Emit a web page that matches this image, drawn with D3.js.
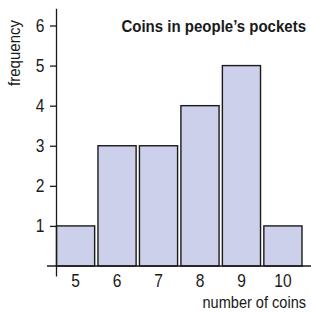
<!DOCTYPE html>
<html>
<head>
<meta charset="utf-8">
<script src="https://cdn.jsdelivr.net/npm/d3@7"></script>
<style>
  body { margin: 0; background: #fff; }
  text { font-family: "Liberation Sans", Arial, sans-serif; fill: #1a1a1a; }
</style>
</head>
<body>
<div id="chart"></div>
<script>
// data
const coins = ['5', '6', '7', '8', '9', '10'];
const frequency = [1, 3, 3, 4, 5, 1];
const yTicks = [1, 2, 3, 4, 5, 6];

const W = 311, H = 313;
const squeeze = 0.89; // the original font is a bit narrower than Liberation Sans

const svg = d3.select('#chart')
  .append('svg')
  .attr('width', W)
  .attr('height', H);

const x = d3.scaleBand()
  .domain(coins)
  .range([56.5, 302])
  .paddingInner(0.08)
  .paddingOuter(0);

const y = d3.scaleLinear()
  .domain([0, 6])
  .range([266, 25.5]);

// bars
svg.selectAll('rect.bar')
  .data(coins)
  .enter()
  .append('rect')
  .attr('class', 'bar')
  .attr('x', d => x(d))
  .attr('y', (d, i) => y(frequency[i]))
  .attr('width', x.bandwidth())
  .attr('height', (d, i) => y(0) - y(frequency[i]))
  .attr('fill', '#ccd0ea')
  .attr('stroke', '#1a1a1a')
  .attr('stroke-width', 1.4);

// y axis
const yAxis = svg.append('g')
  .attr('transform', 'translate(56.5,0)')
  .call(d3.axisLeft(y).tickValues(yTicks).tickSize(6.5).tickPadding(5.5).tickFormat(d3.format('d')));
yAxis.attr('font-size', 17.5).attr('font-family', null);
yAxis.select('.domain').remove();
yAxis.selectAll('line').attr('stroke', '#1a1a1a').attr('stroke-width', 1.3);
yAxis.selectAll('text')
  .attr('x', -12 / squeeze)
  .attr('transform', `scale(${squeeze},1)`);

svg.append('line')
  .attr('x1', 56.5).attr('x2', 56.5)
  .attr('y1', y(6.42)).attr('y2', y(0) + 10.5)
  .attr('stroke', '#1a1a1a').attr('stroke-width', 1.3);

// x axis
const xAxis = svg.append('g')
  .attr('transform', `translate(0,${y(0)})`)
  .call(d3.axisBottom(x).tickSize(0).tickPadding(9));
xAxis.attr('font-size', 17.5).attr('font-family', null);
xAxis.select('.domain').remove();
xAxis.selectAll('text').attr('transform', `scale(${squeeze},1)`);

svg.append('line')
  .attr('x1', 47).attr('x2', W)
  .attr('y1', y(0)).attr('y2', y(0))
  .attr('stroke', '#1a1a1a').attr('stroke-width', 1.3);

// labels
svg.append('text')
  .attr('transform', `translate(306,32) scale(${squeeze + 0.02},1)`)
  .attr('text-anchor', 'end')
  .style('font-size', '16.5px')
  .style('font-weight', 'bold')
  .text('Coins in people\u2019s pockets');

svg.append('text')
  .attr('transform', `translate(306,308) scale(${squeeze + 0.02},1)`)
  .attr('text-anchor', 'end')
  .style('font-size', '16px')
  .text('number of coins');

svg.append('text')
  .attr('transform', `translate(20,20) rotate(-90) scale(${squeeze + 0.02},1)`)
  .attr('text-anchor', 'end')
  .style('font-size', '16.5px')
  .text('frequency');
</script>
</body>
</html>
